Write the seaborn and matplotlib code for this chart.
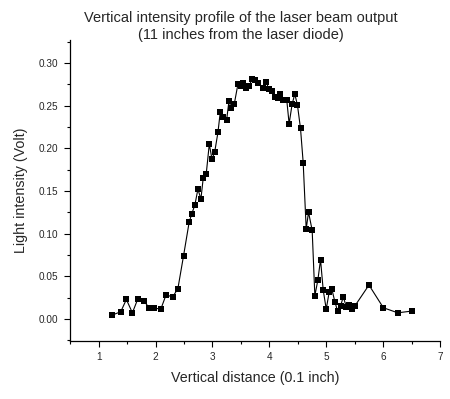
import numpy as np
import pandas as pd
import matplotlib
matplotlib.use("Agg")
import matplotlib.pyplot as plt
import seaborn as sns
from matplotlib.ticker import MultipleLocator

# 读取图上的数据点 (x: 0.1 inch, y: Volt)
distance = [1.235, 1.388, 1.487, 1.593, 1.687, 1.793, 1.887, 1.981, 2.092, 2.186,
            2.298, 2.392, 2.491, 2.591, 2.638, 2.691, 2.744, 2.797, 2.838, 2.891,
            2.944, 2.991, 3.038, 3.096, 3.137, 3.190, 3.249, 3.290, 3.331, 3.384,
            3.449, 3.496, 3.543, 3.595, 3.648, 3.695, 3.748, 3.795, 3.889, 3.942,
            3.989, 4.048, 4.100, 4.147, 4.194, 4.247, 4.306, 4.347, 4.400, 4.447,
            4.494, 4.547, 4.594, 4.647, 4.688, 4.752, 4.799, 4.852, 4.899, 4.946,
            4.999, 5.052, 5.099, 5.152, 5.199, 5.252, 5.299, 5.351, 5.404, 5.451,
            5.504, 5.750, 6.003, 6.256, 6.502]
intensity = [0.0047, 0.0086, 0.0230, 0.0074, 0.0235, 0.0215, 0.0133, 0.0129, 0.0117, 0.0286,
             0.0258, 0.0356, 0.0739, 0.1138, 0.1236, 0.1338, 0.1521, 0.1408, 0.1654, 0.1705,
             0.2049, 0.1877, 0.1952, 0.2186, 0.2425, 0.2366, 0.2335, 0.2554, 0.2472, 0.2523,
             0.2757, 0.2726, 0.2761, 0.2707, 0.2734, 0.2812, 0.2800, 0.2765, 0.2707, 0.2781,
             0.2695, 0.2675, 0.2601, 0.2589, 0.2636, 0.2562, 0.2562, 0.2288, 0.2519, 0.2636,
             0.2503, 0.2233, 0.1834, 0.1056, 0.1252, 0.1040, 0.0274, 0.0458, 0.0696, 0.0340,
             0.0117, 0.0321, 0.0348, 0.0200, 0.0094, 0.0156, 0.0262, 0.0145, 0.0164, 0.0113,
             0.0156, 0.0399, 0.0133, 0.0074, 0.0094]

x_ticks = [1, 2, 3, 4, 5, 6, 7]
y_ticks = [0.00, 0.05, 0.10, 0.15, 0.20, 0.25, 0.30]

df = pd.DataFrame({"x": distance, "y": intensity})

sns.set_theme(style="ticks")
plt.rcParams['font.family'] = ['Liberation Sans', 'DejaVu Sans']

fig = plt.figure(figsize=(4.5, 3.99), dpi=100)
ax = fig.add_axes([0.156, 0.145, 0.822, 0.755])

sns.lineplot(data=df, x="x", y="y", sort=False, color="black", linewidth=0.8,
             marker="s", markersize=4.5, markeredgewidth=0, ax=ax)

ax.set_xlim(0.5, 7)
ax.set_ylim(-0.0258, 0.327)
ax.set_xticks(x_ticks)
ax.set_yticks(y_ticks)
ax.set_yticklabels([f"{v:.2f}" for v in y_ticks])
ax.xaxis.set_minor_locator(MultipleLocator(0.5))
ax.yaxis.set_minor_locator(MultipleLocator(0.025))
ax.tick_params(which="major", length=4.5, width=0.8, labelsize=7.2, color="black", pad=4)
ax.tick_params(axis="x", which="major", pad=3)
ax.tick_params(which="minor", length=2.5, width=0.8, color="black")

for s in ["top", "right"]:
    ax.spines[s].set_visible(False)
for s in ["left", "bottom"]:
    ax.spines[s].set_color("black")
    ax.spines[s].set_linewidth(0.9)

ax.set_xlabel("Vertical distance (0.1 inch)", fontsize=10.3, labelpad=7)
ax.set_ylabel("Light intensity (Volt)", fontsize=10.3, labelpad=8)
fig.text(0.536, 0.972, "Vertical intensity profile of the laser beam output\n(11 inches from the laser diode)",
         ha="center", va="top", fontsize=10.5, linespacing=1.3)

fig.savefig("out.png", dpi=100, facecolor="white")
